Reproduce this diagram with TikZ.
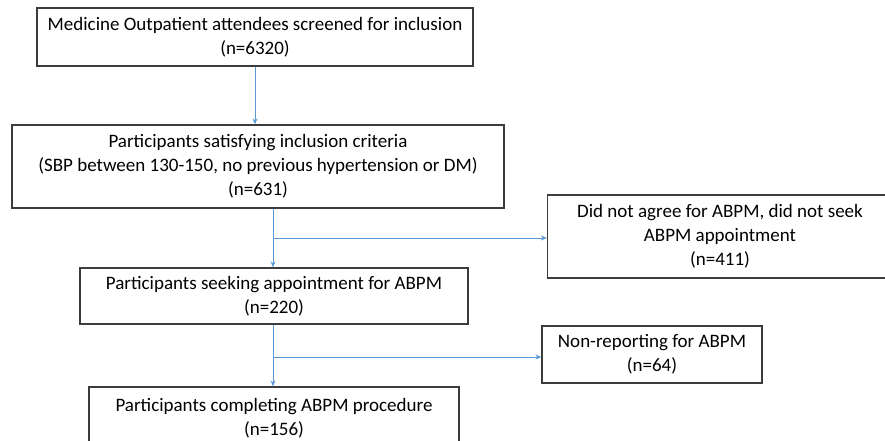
\documentclass[tikz,border=0pt]{standalone}
\usepackage{fontspec}
\setmainfont{Carlito}
\usetikzlibrary{arrows.meta}
\definecolor{flowblue}{RGB}{91,155,213}
\definecolor{boxgray}{RGB}{60,60,60}

\begin{document}
\begin{tikzpicture}[x=1pt, y=-1pt,
    box/.style={draw=boxgray, line width=1.3pt, align=center, inner sep=0pt,
                font=\fontsize{19}{24}\selectfont},
    flow/.style={draw=flowblue, line width=1pt, -{Stealth[length=6pt,width=5pt]}}]

     \useasboundingbox (0,0) rectangle (885,441);

     \node (A) at (255, 37)    [box, minimum width=436, minimum height=58] {Medicine Outpatient attendees screened for inclusion\\(n=6320)};
     \node (B) at (258, 166.5) [box, minimum width=492, minimum height=83] {Participants satisfying inclusion criteria\\(SBP between 130-150, no previous hypertension or DM)\\(n=631)};
     \node (C) at (274, 296)   [box, minimum width=388, minimum height=56] {Participants seeking appointment for ABPM\\(n=220)};
     \node (D) at (720, 236.5) [box, minimum width=345, minimum height=83] {Did not agree for ABPM, did not seek\\ABPM appointment\\(n=411)};
     \node (E) at (652, 354.5) [box, minimum width=220, minimum height=57] {Non-reporting for ABPM\\(n=64)};
     \node (F) at (274, 418)   [box, minimum width=370, minimum height=62] {Participants completing ABPM procedure\\(n=156)};

     \coordinate (j1) at (273, 238);
     \coordinate (j2) at (273, 357);

     \draw [flow] (A.south) -- (A.south |- B.north);
     \draw [flow] (j1 |- B.south) -- (j1 |- C.north);
     \draw [flow] (j2 |- C.south) -- (j2 |- F.north);

     \draw [flow] (j1) -- (j1 -| D.west);
     \draw [flow] (j2) -- (j2 -| E.west);

\end{tikzpicture}
\end{document}
